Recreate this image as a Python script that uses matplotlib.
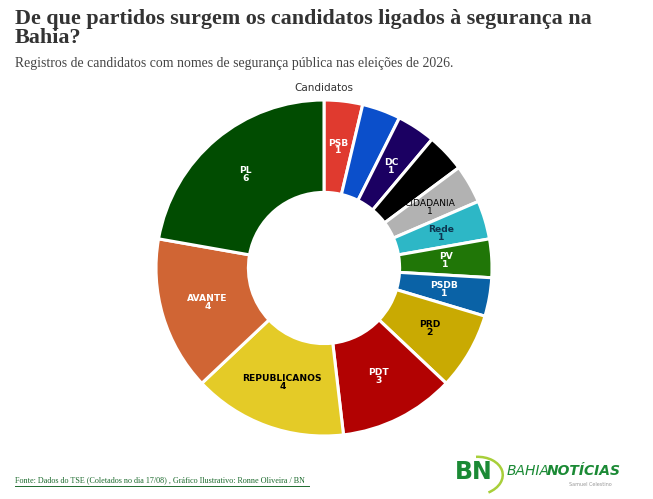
import numpy as np
import matplotlib
matplotlib.use("Agg")
from matplotlib import pyplot as plt
from matplotlib.patches import Arc

# data, clockwise from the top
partidos = ["PSB", "", "DC", "", "CIDADANIA", "Rede", "PV", "PSDB",
            "PRD", "PDT", "REPUBLICANOS", "AVANTE", "PL"]
candidatos = [1, 1, 1, 1, 1, 1, 1, 1, 2, 3, 4, 4, 6]
cores = ["#e03a2f", "#0b4fcb", "#1b0062", "#000000", "#b2b2b2", "#2db7c6",
         "#207607", "#0a62a6", "#c9aa02", "#b20202", "#e4cb27", "#d06534",
         "#014c01"]
cores_texto = ["white", "white", "white", "white", "black", "#0d3550",
               "white", "white", "black", "white", "black", "white", "white"]

titulo = "De que partidos surgem os candidatos ligados à segurança na\nBahia?"
subtitulo = "Registros de candidatos com nomes de segurança pública nas eleições de 2026."
fonte = "Fonte: Dados do TSE (Coletados no dia 17/08) , Gráfico Ilustrativo: Ronne Oliveira / BN"

W, H = 653, 499
fig = plt.figure(figsize=(W / 100, H / 100), dpi=100)
fig.patch.set_facecolor("white")

# donut centre at (324, 268) px, radius 168 px
cx, cy, r = 324, 268, 168
ax = fig.add_axes([(cx - r) / W, (H - cy - r) / H, 2 * r / W, 2 * r / H])
inner = 0.45
wedges, _ = ax.pie(candidatos, colors=cores, startangle=90, counterclock=False,
                   radius=1, wedgeprops=dict(width=1 - inner, edgecolor="white",
                                             linewidth=2.2, joinstyle="round"))
ax.set_xlim(-1, 1)
ax.set_ylim(-1, 1)
ax.set_aspect("equal")
ax.axis("off")

rm = (1 + inner) / 2
for w, nome, v, tc in zip(wedges, partidos, candidatos, cores_texto):
    if not nome:
        continue
    ang = np.deg2rad((w.theta1 + w.theta2) / 2)
    peso = "normal" if nome == "CIDADANIA" else "bold"
    ax.text(rm * np.cos(ang), rm * np.sin(ang), f"{nome}\n{v}", ha="center",
            va="center", fontsize=6.6, fontweight=peso, color=tc,
            linespacing=0.85, family="DejaVu Sans")

fig.text(cx / W, 1 - 88 / H, "Candidatos", ha="center", va="center",
         fontsize=7.5, color="#333333", family="DejaVu Sans")

fig.text(15 / W, 1 - 9 / H, titulo, ha="left", va="top", fontsize=15.8,
         fontweight="bold", color="#333333", family="Liberation Serif",
         linespacing=0.92)
fig.text(15 / W, 1 - 64 / H, subtitulo, ha="left", va="center", fontsize=9.9,
         color="#444444", family="Liberation Serif")

fig.text(15 / W, 1 - 480 / H, fonte, ha="left", va="center", fontsize=5.85,
         color="#1d6b2e", family="Liberation Serif")
fig.add_artist(plt.Line2D([15 / W, 309 / W], [1 - 485.5 / H, 1 - 485.5 / H],
                          color="#1d6b2e", linewidth=0.7))

# logo
fig.add_artist(Arc((476 / W, 1 - 476 / H), 54 / W, 38 / H, angle=20,
                   theta1=-80, theta2=70, color="#a8cf3a", linewidth=1.8,
                   transform=fig.transFigure))
fig.text(455 / W, 1 - 472 / H, "BN", ha="left", va="center", fontsize=17,
         fontweight="bold", color="#1b8a35", family="DejaVu Sans")
fig.text(507 / W, 1 - 471 / H, "BAHIA", ha="left", va="center", fontsize=10,
         style="italic", color="#1b8a35", family="DejaVu Sans")
fig.text(547 / W, 1 - 471 / H, "NOTÍCIAS", ha="left", va="center",
         fontsize=10, style="italic", fontweight="bold", color="#1b8a35",
         family="DejaVu Sans")
fig.text(612 / W, 1 - 484 / H, "Samuel Celestino", ha="right", va="center",
         fontsize=3.5, color="#999999", family="DejaVu Sans")

fig.savefig("out.png", dpi=100)
